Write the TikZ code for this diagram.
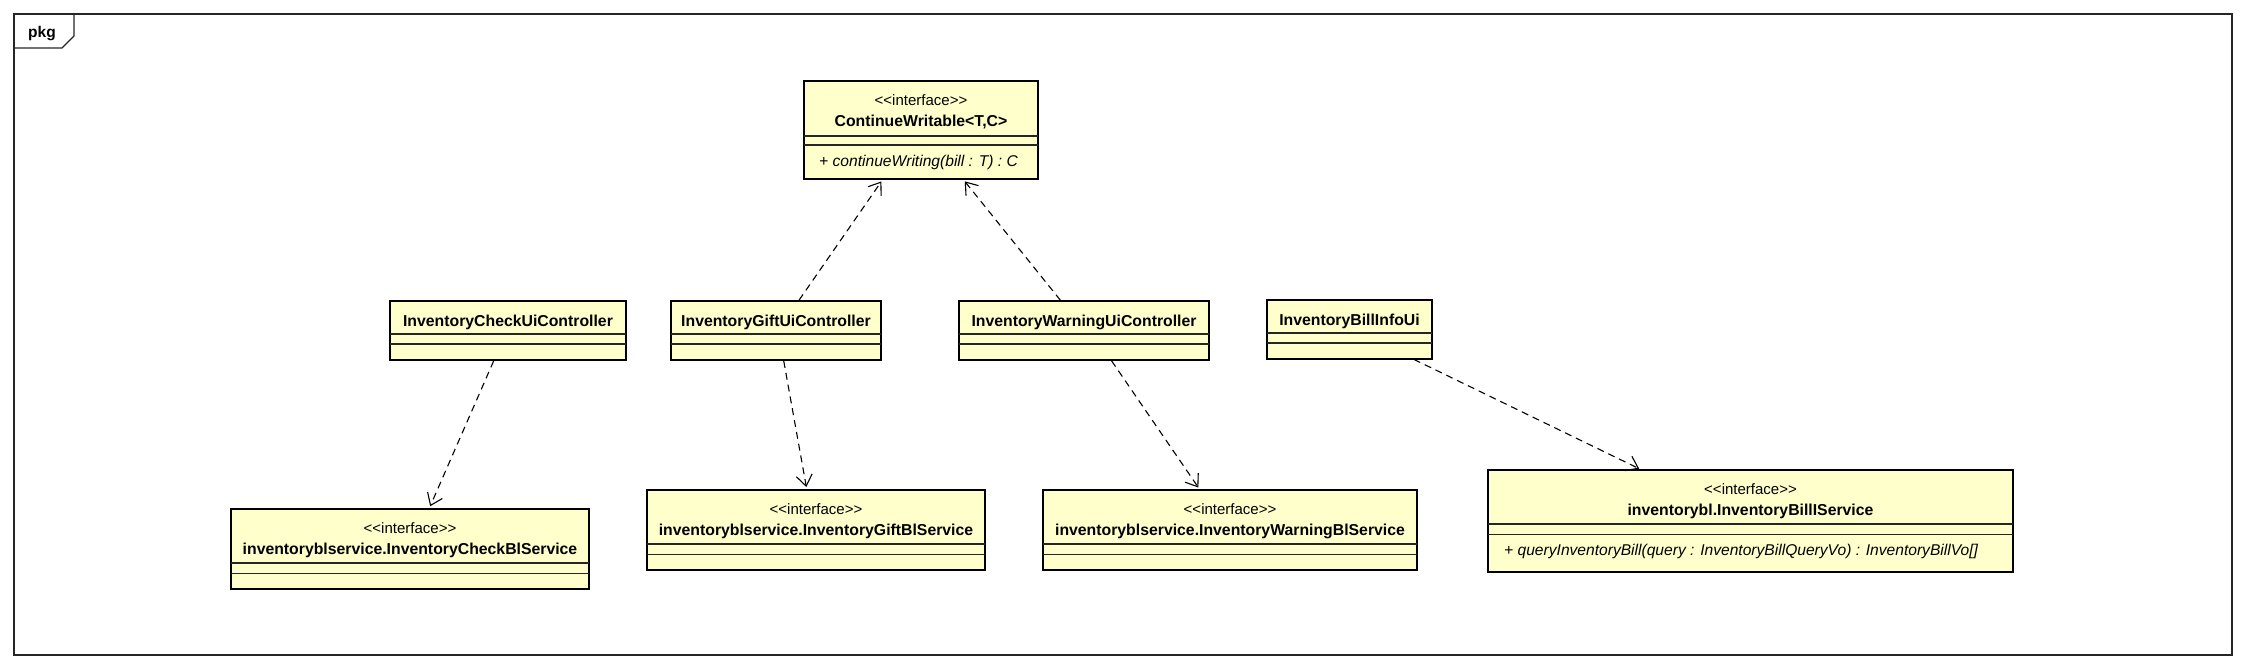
\documentclass[tikz,border=0pt]{standalone}
\usepackage{fontspec}
\newfontfamily\umlfont{Liberation Sans}
\usetikzlibrary{arrows.meta,calc}
\definecolor{clsfill}{HTML}{FFFFCC}
\newcommand{\stereo}{<\kern0pt<interface>\kern0pt>}
\tikzset{
  x=1pt, y=-1pt,
  cls/.style={draw=black, fill=clsfill, line width=2.8pt, outer sep=0pt, inner sep=0pt},
  divline/.style={draw=black!85, line width=1.1pt},
  nm/.style={font=\umlfont\bfseries\fontsize{15.8}{18}\selectfont, inner sep=0pt, anchor=base},
  st/.style={font=\umlfont\fontsize{15}{18}\selectfont, inner sep=0pt, anchor=base},
  op/.style={font=\umlfont\itshape\fontsize{15.6}{18}\selectfont, inner sep=0pt, anchor=base west},
  dep/.style={draw=black, line width=1.1pt, dash pattern=on 7pt off 5pt,
    -{Straight Barb[length=11pt,width=16pt,line width=1.1pt]}, shorten >=3pt, shorten <=1pt},
  framebox/.style={draw=black!85, line width=1.3pt, outer sep=0pt, inner sep=0pt, fill=white},
}
\begin{document}
\begin{tikzpicture}
\useasboundingbox (0,0) rectangle (2248,666);
\fill[white] (0,0) rectangle (2248,666);
% package frame
\node[framebox, minimum width=2218pt, minimum height=641pt] (frame) at (1123,334.5) {};
\draw[draw=black!85, line width=1.3pt] (frame.north west) ++(0,34) -- ++(48,0) -- ++(12,-12) -- ++(0,-22);
\node[font=\umlfont\bfseries\fontsize{15.5}{18}\selectfont, inner sep=0pt, anchor=base west] (pkgl) at (28,38) {pkg};

% ContinueWritable
\node[cls, minimum width=234pt, minimum height=98pt] (cw) at (921,130) {};
\draw[divline] ([yshift=-55pt]cw.north west) -- ([yshift=-55pt]cw.north east);
\draw[divline] ([yshift=-64pt]cw.north west) -- ([yshift=-64pt]cw.north east);
\node[st] (cw-st) at ([yshift=-25pt]cw.north) {\stereo};
\node[nm] (cw-nm) at ([yshift=-46pt]cw.north) {ContinueWritable<T,C>};
\node[op] (cw-op) at ([xshift=15pt,yshift=-85pt]cw.north west) {+ continueWriting(bill : T) : C};

% UI controllers
\node[cls, minimum width=236pt, minimum height=59pt] (check) at (508,330.5) {};
\node[cls, minimum width=210pt, minimum height=59pt] (gift) at (776,330.5) {};
\node[cls, minimum width=250pt, minimum height=59pt] (warn) at (1084,330.5) {};
\node[cls, minimum width=165pt, minimum height=59pt] (binfo) at (1349.5,329.5) {};
\foreach \n in {check,gift,warn,binfo}{
  \draw[divline] ([yshift=-33pt]\n.north west) -- ([yshift=-33pt]\n.north east);
  \draw[divline] ([yshift=-43pt]\n.north west) -- ([yshift=-43pt]\n.north east);
}
\node[nm] (check-nm) at ([yshift=-25.5pt]check.north) {InventoryCheckUiController};
\node[nm] (gift-nm) at ([yshift=-25.5pt]gift.north) {InventoryGiftUiController};
\node[nm] (warn-nm) at ([yshift=-25.5pt]warn.north) {InventoryWarningUiController};
\node[nm] (binfo-nm) at ([yshift=-25.5pt]binfo.north) {InventoryBillInfoUi};

% services
\node[cls, minimum width=358pt, minimum height=80pt] (checkbl) at (410,549) {};
\node[cls, minimum width=338pt, minimum height=80pt] (giftbl) at (816,530) {};
\node[cls, minimum width=374pt, minimum height=80pt] (warnbl) at (1230,530) {};
\node[cls, minimum width=525pt, minimum height=102pt] (billi) at (1750.5,521) {};
\foreach \n in {checkbl,giftbl,warnbl,billi}{
  \draw[divline] ([yshift=-54pt]\n.north west) -- ([yshift=-54pt]\n.north east);
  \draw[divline] ([yshift=-64.5pt]\n.north west) -- ([yshift=-64.5pt]\n.north east);
  \node[st] (\n-st) at ([yshift=-24.5pt]\n.north) {\stereo};
}
\node[nm] (checkbl-nm) at ([yshift=-45.5pt]checkbl.north) {inventoryblservice.InventoryCheckBlService};
\node[nm] (giftbl-nm) at ([yshift=-45.5pt]giftbl.north) {inventoryblservice.InventoryGiftBlService};
\node[nm] (warnbl-nm) at ([yshift=-45.5pt]warnbl.north) {inventoryblservice.InventoryWarningBlService};
\node[nm] (billi-nm) at ([yshift=-45.5pt]billi.north) {inventorybl.InventoryBillIService};
\node[op] (billi-op) at ([xshift=16pt,yshift=-85pt]billi.north west) {+ queryInventoryBill(query : InventoryBillQueryVo) : InventoryBillVo[]};

% dependencies
\draw[dep] ($(gift.north west)!0.607!(gift.north east)$) -- ($(cw.south west)!0.338!(cw.south east)$);
\draw[dep] ($(warn.north west)!0.408!(warn.north east)$) -- ($(cw.south west)!0.679!(cw.south east)$);
\draw[dep] ($(check.south west)!0.441!(check.south east)$) -- ($(checkbl.north west)!0.553!(checkbl.north east)$);
\draw[dep] ($(gift.south west)!0.536!(gift.south east)$) -- ($(giftbl.north west)!0.473!(giftbl.north east)$);
\draw[dep] ($(warn.south west)!0.608!(warn.south east)$) -- ($(warnbl.north west)!0.420!(warnbl.north east)$);
\draw[dep] ($(binfo.south west)!0.885!(binfo.south east)$) -- ($(billi.north west)!0.293!(billi.north east)$);
\end{tikzpicture}
\end{document}
